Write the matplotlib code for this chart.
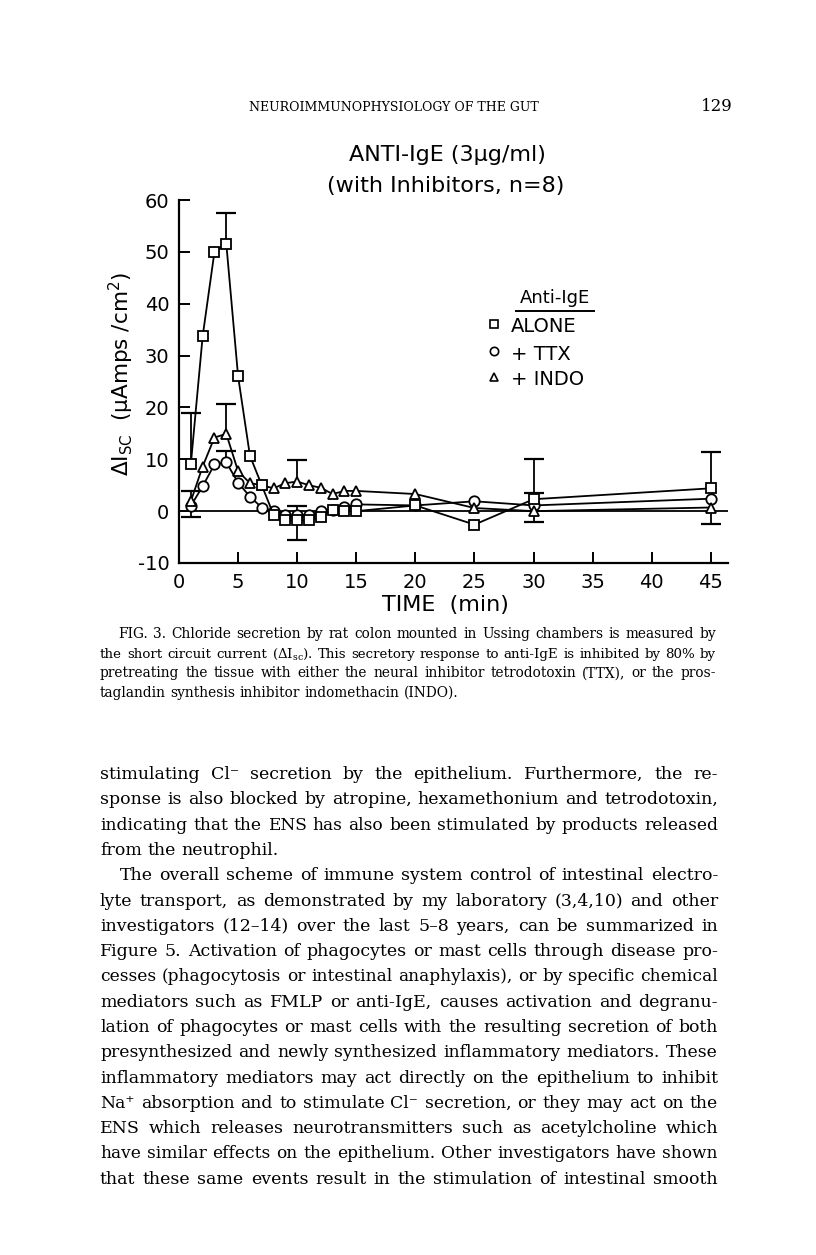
import matplotlib
matplotlib.use("Agg")
import matplotlib.pyplot as plt

# ---------------- data ----------------
times = [1, 2, 3, 4, 5, 6, 7, 8, 9, 10, 11, 12, 13, 14, 15, 20, 25, 30, 45]
alone = [9.0, 33.7, 50.0, 51.6, 26.0, 10.7, 5.0, -0.7, -1.8, -1.8, -1.8, -1.1, 0.3, 0.1, 0.0, 1.1, -2.6, 2.3, 4.4]
ttx   = [1.0, 4.8, 9.0, 9.4, 5.5, 2.8, 0.7, 0.0, -0.8, -0.8, -0.8, 0.0, 0.3, 0.8, 1.3, 1.1, 1.9, 1.1, 2.4]
indo  = [1.9, 8.6, 14.2, 14.9, 7.7, 5.4, 5.0, 4.4, 5.4, 5.7, 5.0, 4.5, 3.3, 3.9, 3.9, 3.3, 0.6, 0.0, 0.7]

# one-sided error bars: (time, signed SEM)  (+ = drawn upward, - = downward)
alone_err = [(1, 10.0), (4, 5.9), (10, -3.8), (30, 7.7), (45, 7.1)]
ttx_err   = [(1, -2.1), (4, 2.2), (10, 1.7), (30, 2.4)]
indo_err  = [(1, 1.9), (4, 5.8), (10, 4.2), (30, -2.1), (45, -3.2)]

xticks = [0, 5, 10, 15, 20, 25, 30, 35, 40, 45]
xticklabels = ["0", "5", "10", "15", "20", "25", "30", "35", "40", "45"]
yticks = [-10, 0, 10, 20, 30, 40, 50, 60]
yticklabels = ["-10", "0", "10", "20", "30", "40", "50", "60"]

legend_title = "Anti-IgE"
legend_labels = ["ALONE", "+ TTX", "+ INDO"]

header_text = "NEUROIMMUNOPHYSIOLOGY OF THE GUT"
page_number = "129"

caption_lines = [
    "FIG. 3. Chloride secretion by rat colon mounted in Ussing chambers is measured by",
    "the short circuit current (ΔI$_{\\mathrm{sc}}$). This secretory response to anti-IgE is inhibited by 80% by",
    "pretreating the tissue with either the neural inhibitor tetrodotoxin (TTX), or the pros-",
    "taglandin synthesis inhibitor indomethacin (INDO).",
]

body_lines = [
    "stimulating Cl⁻ secretion by the epithelium. Furthermore, the re-",
    "sponse is also blocked by atropine, hexamethonium and tetrodotoxin,",
    "indicating that the ENS has also been stimulated by products released",
    "from the neutrophil.",
    "The overall scheme of immune system control of intestinal electro-",
    "lyte transport, as demonstrated by my laboratory (3,4,10) and other",
    "investigators (12–14) over the last 5–8 years, can be summarized in",
    "Figure 5. Activation of phagocytes or mast cells through disease pro-",
    "cesses (phagocytosis or intestinal anaphylaxis), or by specific chemical",
    "mediators such as FMLP or anti-IgE, causes activation and degranu-",
    "lation of phagocytes or mast cells with the resulting secretion of both",
    "presynthesized and newly synthesized inflammatory mediators. These",
    "inflammatory mediators may act directly on the epithelium to inhibit",
    "Na⁺ absorption and to stimulate Cl⁻ secretion, or they may act on the",
    "ENS which releases neurotransmitters such as acetylcholine which",
    "have similar effects on the epithelium. Other investigators have shown",
    "that these same events result in the stimulation of intestinal smooth",
]

# ---------------- figure ----------------
plt.rcParams["mathtext.fontset"] = "dejavuserif"
W, H = 816, 1255
fig = plt.figure(figsize=(W / 100, H / 100), dpi=100)
fig.patch.set_facecolor("white")

SANS = dict(family="DejaVu Sans")
SERIF = ["DejaVu Serif"]

def fx(px):
    return px / W

def fy(py):
    return 1 - py / H

# axes: left spine at x=179, bottom at y=563, top (60) at y=200, right end x=728
ax_l, ax_r, ax_t, ax_b = 179, 728, 200, 563
ax = fig.add_axes([fx(ax_l), fy(ax_b), (ax_r - ax_l) / W, (ax_b - ax_t) / H])
ax.set_xlim(0, 46.45)
ax.set_ylim(-10, 60)
for s in ["top", "right"]:
    ax.spines[s].set_visible(False)
for s in ["left", "bottom"]:
    ax.spines[s].set_linewidth(1.6)

ax.axhline(0, color="black", lw=1.3, zorder=1)

lw = 1.3
mk = dict(markerfacecolor="white", markeredgecolor="black", markeredgewidth=1.3)
ax.plot(times, alone, "-", color="black", lw=lw, marker="s", ms=7, zorder=4, **mk)
ax.plot(times, ttx, "-", color="black", lw=lw, marker="o", ms=7.5, zorder=3, **mk)
ax.plot(times, indo, "-", color="black", lw=lw, marker="^", ms=7.5, zorder=3, **mk)

def draw_err(series, errs):
    for t, e in errs:
        y = series[times.index(t)]
        ax.plot([t, t], [y, y + e], color="black", lw=1.3, zorder=2)
        ax.plot([t], [y + e], marker="_", ms=14, mew=1.6, color="black", zorder=2)

draw_err(alone, alone_err)
draw_err(ttx, ttx_err)
draw_err(indo, indo_err)

ax.set_xticks(xticks)
ax.set_xticklabels(xticklabels, **SANS, fontsize=14)
ax.set_yticks(yticks)
ax.set_yticklabels(yticklabels, **SANS, fontsize=14)
ax.tick_params(axis="both", direction="in", length=8, width=1.4, pad=7)

ax.set_xlabel("TIME  (min)", **SANS, fontsize=16)
ax.xaxis.set_label_coords((445 - ax_l) / (ax_r - ax_l), (ax_b - 605) / (ax_b - ax_t))
ax.xaxis.label.set_va("center")
ax.set_ylabel("ΔI$_{\\mathsf{SC}}$  (μAmps /cm$^{\\mathsf{2}}$)", **SANS, fontsize=15.5)
ax.yaxis.set_label_coords((121 - ax_l) / (ax_r - ax_l), (ax_b - 374) / (ax_b - ax_t))
ax.yaxis.label.set_va("center")

# chart title
fig.text(fx(447), fy(155), "ANTI-IgE (3μg/ml)", ha="center", va="center", fontsize=16, **SANS)
fig.text(fx(446), fy(186), "(with Inhibitors, n=8)", ha="center", va="center", fontsize=16, **SANS)

# legend (hand-placed, as in the figure)
fig.text(fx(555), fy(298), legend_title, ha="center", va="center", fontsize=13, **SANS)
fig.add_artist(plt.Line2D([fx(516), fx(594)], [fy(311), fy(311)], color="black", lw=1.4))
for i, (lab, m) in enumerate(zip(legend_labels, ["s", "o", "^"])):
    yy = [327, 354, 380][i]
    fig.add_artist(plt.Line2D([fx(494)], [fy(yy - 3)], marker=m, ms=6, color="black",
                              markerfacecolor="white", markeredgewidth=1.2, linestyle="none"))
    fig.text(fx(511), fy(yy), lab, ha="left", va="center", fontsize=14, **SANS)

# ---------------- page text ----------------
renderer = fig.canvas.get_renderer()

def text_width(s, size):
    t = fig.text(0, 0, s, fontsize=size, family=SERIF)
    w = t.get_window_extent(renderer).width
    t.remove()
    return w

def line_ratio(line, avail, s0):
    sp = text_width("a a", s0) - text_width("aa", s0)
    words = line.split(" ")
    nat = sum(text_width(w, s0) for w in words) + sp * (len(words) - 1)
    return avail / nat

def justify(lines, x0, x1, base0, dy, s0, nojust=(), indents=None):
    """justified lines; a common font size (median fit), shrunk slightly
    only on lines that would otherwise overflow"""
    indents = indents or {}
    ratios = {i: line_ratio(l, x1 - x0 - indents.get(i, 0), s0)
              for i, l in enumerate(lines) if i not in nojust}
    rs = sorted(ratios.values())
    base = s0 * rs[len(rs) // 2] * 0.985
    for i, line in enumerate(lines):
        size = base if i in nojust else min(base, s0 * ratios[i] * 0.985)
        sp = text_width("a a", size) - text_width("aa", size)
        words = line.split(" ")
        yb = base0 + i * dy
        tx = [fig.text(0, 0, w, fontsize=size, family=SERIF, va="baseline") for w in words]
        widths = [t.get_window_extent(renderer).width for t in tx]
        xs = x0 + indents.get(i, 0)
        if i in nojust or len(words) == 1:
            gap = sp
        else:
            gap = (x1 - xs - sum(widths)) / (len(words) - 1)
        x = xs
        for t, w in zip(tx, widths):
            t.set_position((fx(x), fy(yb)))
            x += w + gap

# header
fig.text(fx(394), fy(111), header_text, ha="center", va="baseline", fontsize=9, family=SERIF)
fig.text(fx(733), fy(111), page_number, ha="right", va="baseline", fontsize=12, family=SERIF)

justify(caption_lines, 100, 716, 638, 19.6, 9.0, nojust={3}, indents={0: 18})
justify(body_lines, 100, 718, 779, 25.3, 12.0, nojust={3}, indents={4: 20})

fig.savefig("out.png", dpi=100, facecolor="white")
